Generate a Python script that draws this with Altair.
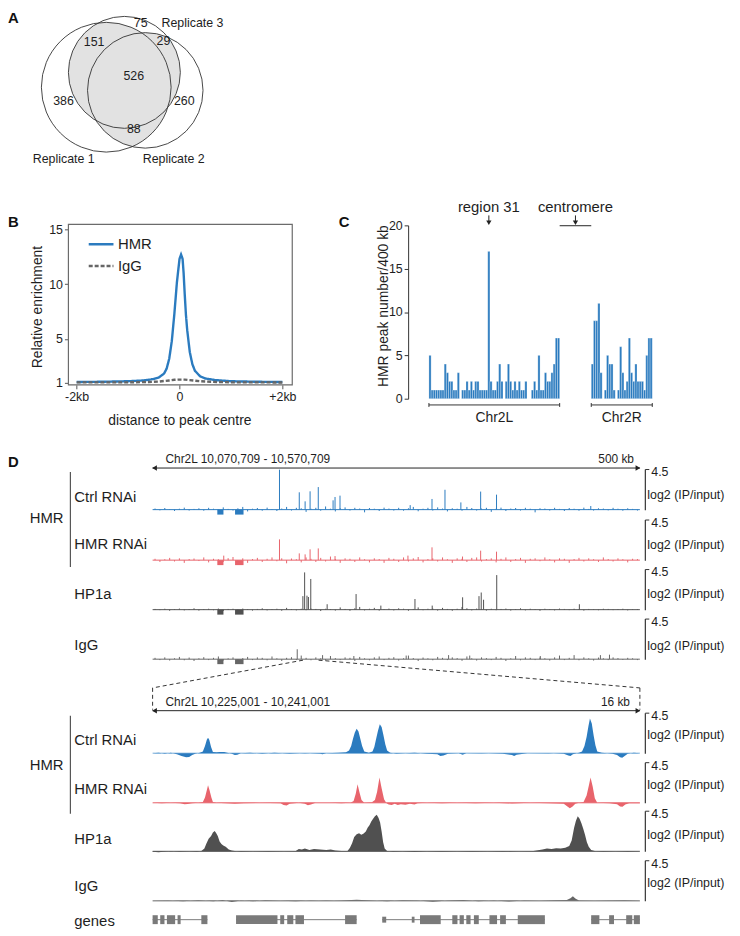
import altair as alt
import pandas as pd
import numpy as np

# ======================= DATA =======================
# A  Venn diagram of peak overlap
venn_names = ["Replicate 1", "Replicate 2", "Replicate 3"]
venn_counts = ["75", "151", "29", "526", "386", "260", "88"]

# B  average profile (bp from peak centre, relative enrichment)
b_hmr_bp = [-2000, -1500, -1000, -700, -500, -400, -300, -250, -200, -150, -100, -50, 0, 30, 60, 80,
            100, 125, 150, 200, 250, 300, 400, 500, 700, 1000, 1500, 2000]
b_hmr = [1.08, 1.1, 1.15, 1.22, 1.35, 1.5, 1.85, 2.3, 3.2, 4.8, 7.3, 10.2, 12.3, 12.7, 12.3, 11.0,
         9.2, 7.2, 5.8, 3.8, 2.7, 2.1, 1.6, 1.4, 1.25, 1.15, 1.1, 1.08]
b_igg_bp = [-2000, -1500, -1000, -600, -400, -200, -100, 0, 100, 200, 400, 600, 1000, 1500, 2000]
b_igg = [1.05, 1.05, 1.05, 1.08, 1.12, 1.22, 1.28, 1.3, 1.3, 1.25, 1.15, 1.1, 1.05, 1.05, 1.03]

# C  HMR peaks per 400 kb bin
chr2L_counts = [5, 1, 1, 1, 1, 1, 1, 4, 3, 2, 2, 1, 1, 3, 0, 1, 1, 2, 1, 2, 1, 2, 2, 1, 1, 1, 1, 17,
                2, 1, 1, 2, 4, 2, 0, 2, 4, 2, 1, 2, 1, 2, 1, 1, 2, 0, 0, 1, 2, 1, 5, 1, 1, 3, 2, 2, 3,
                4, 7, 7]
chr2R_counts = [4, 9, 9, 11, 3, 0, 1, 5, 4, 4, 1, 0, 1, 6, 3, 1, 2, 7, 3, 2, 4, 2, 2, 2, 1, 5, 7, 7]
chr2R_start_bin = 74.5
region31_bin = 27

# D  upper browser view (kb from 10,070,709; log2 IP/input)
up_span_kb = 500
ctrl_up_kb = [130.2, 150.5, 156.5, 161.6, 170.0, 185.2, 187.2, 192.3, 264.3, 286.7, 300.0, 316.3,
              336.6, 352.9, 449.6]
ctrl_up_v = [4.43, 1.92, 0.92, 2.03, 2.5, 1.03, 1.4, 1.55, 0.5, 1.18, 2.2, 0.8, 2.0, 1.66, 0.4]
red_up_kb = [73.0, 130.2, 150.5, 156.5, 161.6, 170.0, 187.2, 262.0, 286.7, 318.0, 336.6, 352.9]
red_up_v = [0.5, 2.3, 0.75, 0.64, 1.2, 1.3, 0.45, 0.5, 1.42, 0.4, 1.05, 0.94]
hp1_up_kb = [154.2, 156.0, 158.4, 159.9, 162.3, 179.1, 208.8, 234.2, 269.2, 286.9, 318.1, 334.9,
             337.2, 339.6, 353.1, 437.9]
hp1_up_v = [1.5, 4.13, 1.55, 1.4, 3.4, 0.6, 1.73, 0.45, 1.18, 0.45, 1.37, 1.5, 1.9, 1.1, 3.83, 0.6]
igg_up_kb = [148.4, 174.4, 206.5, 260.2, 303.7, 325.4, 397.8, 459.5, 468.8]
igg_up_v = [1.1, 0.45, 0.35, 0.4, 0.45, 0.4, 0.35, 0.45, 0.5]
gap_blocks_kb = [(66.4, 72.7), (84.6, 93.3)]
gap_depth = -0.55
noise_kb = [2.5 + 5 * i for i in range(100)]
ctrl_noise = [0.12, -0.08, 0.18, 0.05, -0.15, 0.1, 0.22, -0.1, 0.08, 0.15,
              -0.12, 0.2, 0.1, -0.18, 0.25, 0.08, -0.1, 0.15, 0.3, -0.2,
              0.1, 0.18, -0.12, 0.22, 0.05, -0.15, 0.12, 0.3, -0.1, 0.2,
              0.15, -0.25, 0.1, 0.2, -0.12, 0.35, 0.1, -0.2, 0.15, 0.25,
              -0.1, 0.2, 0.12, -0.3, 0.18, 0.1, -0.15, 0.22, 0.12, -0.1,
              0.2, -0.12, 0.15, 0.3, -0.18, 0.1, 0.2, -0.1, 0.25, 0.12,
              -0.2, 0.15, 0.1, -0.12, 0.3, 0.18, -0.1, 0.12, 0.2, -0.25,
              0.1, 0.22, -0.15, 0.12, 0.18, -0.1, 0.2, 0.1, -0.3, 0.15,
              0.12, -0.1, 0.2, 0.08, -0.15, 0.18, 0.1, -0.12, 0.22, 0.08,
              -0.1, 0.15, 0.12, -0.08, 0.2, 0.1, -0.12, 0.15, 0.08, -0.1]
red_noise = [0.15, -0.2, 0.1, 0.25, -0.15, 0.2, -0.3, 0.12, 0.18, -0.1,
             0.3, -0.25, 0.15, 0.1, -0.2, 0.22, 0.35, -0.15, 0.2, -0.3,
             0.12, 0.25, -0.2, 0.15, 0.3, -0.12, 0.2, -0.35, 0.18, 0.1,
             -0.25, 0.3, 0.15, -0.2, 0.25, -0.15, 0.4, 0.12, -0.3, 0.2,
             0.15, -0.2, 0.3, 0.1, -0.25, 0.2, 0.12, -0.3, 0.25, 0.15,
             -0.2, 0.3, -0.15, 0.2, 0.35, -0.25, 0.12, 0.2, -0.15, 0.3,
             0.1, -0.3, 0.2, 0.15, -0.2, 0.25, 0.3, -0.15, 0.12, 0.2,
             -0.25, 0.15, 0.3, -0.2, 0.12, 0.25, -0.3, 0.15, 0.2, -0.12,
             0.3, 0.1, -0.25, 0.2, 0.15, -0.3, 0.12, 0.25, -0.15, 0.2,
             0.1, -0.2, 0.3, 0.12, -0.15, 0.2, 0.1, -0.25, 0.15, 0.12]
hp1_noise = [0.08, -0.05, 0.1, -0.12, 0.06, 0.12, -0.08, 0.05, 0.15, -0.1,
             0.07, 0.1, -0.06, 0.12, -0.15, 0.08, 0.1, -0.05, 0.12, 0.06,
             -0.1, 0.08, 0.15, -0.08, 0.05, 0.1, -0.12, 0.2, 0.06, -0.08,
             0.1, -0.06, 0.12, 0.08, -0.15, 0.1, 0.06, -0.1, 0.25, 0.08,
             -0.12, 0.15, 0.3, -0.08, 0.1, 0.2, -0.1, 0.06, 0.12, -0.08,
             0.15, 0.1, -0.12, 0.08, 0.25, -0.06, 0.1, 0.12, -0.1, 0.2,
             0.08, -0.12, 0.1, 0.3, 0.15, -0.08, 0.12, 0.06, -0.1, 0.1,
             -0.06, 0.08, 0.12, -0.1, 0.06, 0.15, -0.08, 0.1, 0.05, -0.12,
             0.1, 0.06, -0.08, 0.12, 0.08, -0.05, 0.1, 0.06, -0.1, 0.08,
             0.05, -0.06, 0.1, 0.08, -0.05, 0.06, 0.1, -0.08, 0.05, 0.06]
igg_noise = [0.15, -0.1, 0.2, -0.15, 0.1, 0.25, -0.12, 0.18, -0.2, 0.1,
             0.22, -0.1, 0.15, 0.3, -0.15, 0.1, 0.2, -0.18, 0.12, 0.25,
             -0.1, 0.2, 0.15, -0.12, 0.3, 0.1, -0.2, 0.15, 0.22, -0.1,
             0.4, 0.15, -0.12, 0.2, 0.1, -0.15, 0.35, 0.12, -0.1, 0.2,
             0.15, -0.2, 0.25, 0.1, -0.12, 0.2, 0.3, -0.1, 0.15, 0.22,
             -0.15, 0.1, 0.4, 0.12, -0.2, 0.18, 0.1, -0.12, 0.25, 0.15,
             -0.1, 0.2, 0.12, -0.18, 0.3, 0.1, -0.15, 0.2, 0.12, -0.1,
             0.25, 0.15, -0.2, 0.1, 0.35, -0.12, 0.2, 0.15, -0.1, 0.18,
             0.1, -0.15, 0.2, 0.4, -0.1, 0.15, 0.45, -0.12, 0.2, 0.1,
             -0.15, 0.18, 0.1, -0.1, 0.2, 0.12, -0.08, 0.15, 0.1, -0.1]

# D  lower browser view (kb from 10,225,001)
lo_span_kb = 16
zoom_from_kb, zoom_to_kb = 154.292, 170.292
ctrl_lo_kb = [0.0, 0.2, 0.4, 0.6, 0.8, 0.95, 1.1, 1.2, 1.3, 1.4, 1.55, 1.65, 1.72, 1.78, 1.82, 1.86, 1.92, 1.98,
              2.1, 2.2, 2.35, 2.45, 2.6, 2.7, 2.78, 2.9, 3.2, 3.6, 4.0, 4.5, 5.0, 5.5, 5.58, 5.7, 6.1, 6.35,
              6.45, 6.52, 6.58, 6.64, 6.7, 6.76, 6.82, 6.88, 6.95, 7.1, 7.22, 7.28, 7.34, 7.4, 7.46, 7.52,
              7.58, 7.64, 7.7, 7.8, 8.0, 8.6, 9.0, 9.35, 9.45, 9.55, 9.7, 10.05, 10.18, 10.3, 10.8, 11.5,
              11.8, 11.87, 11.95, 12.3, 13.0, 13.5, 13.65, 13.72, 13.8, 14.0, 14.1, 14.18, 14.25, 14.31,
              14.36, 14.42, 14.48, 14.54, 14.6, 14.75, 15.1, 15.25, 15.35, 15.42, 15.5, 15.6, 15.8, 16.0]
ctrl_lo_v = [0.0, 0.05, -0.05, 0.05, -0.1, -0.3, -0.45, -0.4, -0.2, -0.05, 0.05, 0.2, 0.8, 1.5, 1.73, 1.5,
             0.7, 0.15, 0.1, 0.15, 0.15, 0.05, -0.05, -0.2, -0.15, 0.0, 0.05, -0.05, 0.05, -0.05, 0.03,
             -0.05, -0.12, 0.0, 0.05, 0.1, 0.3, 0.8, 1.6, 2.3, 2.73, 2.4, 1.6, 0.8, 0.2, 0.05, 0.2, 0.7,
             1.6, 2.5, 3.21, 2.9, 2.0, 1.0, 0.3, 0.05, -0.05, 0.05, -0.05, -0.1, -0.3, -0.25, -0.05, 0.0,
             -0.15, 0.0, 0.03, -0.05, -0.2, -0.3, -0.15, 0.0, 0.03, -0.05, -0.25, -0.3, -0.1, 0.05, 0.2,
             0.8, 1.8, 3.0, 3.84, 3.3, 2.0, 0.9, 0.2, 0.05, -0.05, -0.2, -0.45, -0.5, -0.3, -0.05, 0.05, 0.0]
red_lo_kb = [0.0, 0.3, 0.6, 0.9, 1.05, 1.15, 1.3, 1.5, 1.65, 1.72, 1.78, 1.82, 1.87, 1.93, 1.98, 2.1, 2.4,
             2.7, 3.0, 3.5, 4.2, 4.3, 4.4, 4.5, 4.8, 5.0, 5.1, 5.2, 5.35, 5.8, 6.2, 6.5, 6.6, 6.67, 6.73,
             6.79, 6.86, 6.95, 7.2, 7.3, 7.37, 7.45, 7.52, 7.6, 7.68, 7.75, 7.85, 7.95, 8.05, 8.15, 8.3,
             8.45, 8.6, 8.7, 9.0, 9.5, 10.0, 10.6, 11.2, 11.8, 12.4, 13.0, 13.5, 13.62, 13.7, 13.78, 13.88,
             14.0, 14.15, 14.25, 14.33, 14.38, 14.45, 14.52, 14.6, 15.0, 15.25, 15.35, 15.43, 15.52,
             15.65, 16.0]
red_lo_v = [0.0, -0.05, 0.0, -0.05, -0.15, -0.12, -0.05, 0.0, 0.1, 0.6, 1.4, 1.95, 1.4, 0.6, 0.1, 0.0,
            -0.05, -0.1, -0.05, 0.0, -0.05, -0.25, -0.3, -0.1, 0.0, -0.1, -0.28, -0.2, 0.0, 0.0, -0.05,
            0.0, 0.2, 1.0, 2.06, 1.2, 0.3, 0.0, 0.05, 0.3, 1.2, 2.8, 1.6, 0.4, -0.05, -0.2, -0.25, -0.1,
            -0.25, -0.15, -0.22, -0.1, -0.2, -0.05, 0.0, -0.05, 0.0, -0.05, 0.0, -0.08, 0.0, -0.05,
            -0.1, -0.4, -0.6, -0.45, -0.1, 0.0, 0.1, 0.8, 2.0, 2.8, 1.8, 0.5, 0.0, -0.05, -0.15, -0.4,
            -0.45, -0.2, -0.05, -0.05]
hp1_lo_kb = [0.0, 0.2, 0.35, 0.6, 0.9, 1.2, 1.45, 1.6, 1.7, 1.76, 1.84, 1.92, 1.98, 2.04, 2.09, 2.14, 2.2,
             2.26, 2.32, 2.4, 2.5, 2.6, 2.7, 2.9, 3.3, 3.8, 4.3, 4.7, 4.8, 4.9, 5.0, 5.15, 5.3, 5.5, 5.7,
             5.85, 6.0, 6.2, 6.4, 6.48, 6.55, 6.62, 6.7, 6.78, 6.85, 6.92, 7.0, 7.06, 7.12, 7.18, 7.24,
             7.3, 7.36, 7.42, 7.47, 7.52, 7.57, 7.62, 7.7, 7.9, 8.2, 8.6, 9.0, 9.5, 10.0, 10.5, 11.0,
             11.5, 12.0, 12.5, 12.8, 12.95, 13.1, 13.25, 13.4, 13.55, 13.68, 13.76, 13.84, 13.9, 13.96,
             14.02, 14.08, 14.14, 14.2, 14.26, 14.32, 14.4, 14.55, 14.8, 15.2, 15.6, 16.0]
hp1_lo_v = [-0.05, -0.1, -0.05, 0.05, -0.05, 0.0, -0.05, 0.05, 0.3, 0.8, 1.4, 1.7, 2.1, 2.25, 2.0, 1.7,
            1.1, 0.8, 0.65, 0.5, 0.2, 0.1, 0.05, -0.05, 0.0, -0.05, 0.0, 0.05, 0.25, 0.2, 0.3, 0.15,
            0.25, 0.2, 0.15, 0.2, 0.1, 0.05, 0.05, 0.4, 0.9, 1.6, 1.9, 2.0, 1.85, 1.95, 2.2, 2.6, 2.9,
            3.3, 3.6, 3.9, 4.05, 3.7, 3.2, 2.2, 1.0, 0.3, 0.05, -0.05, 0.0, -0.08, 0.0, -0.05, 0.0,
            -0.05, 0.0, -0.05, 0.0, 0.05, 0.2, 0.3, 0.25, 0.35, 0.3, 0.4, 0.6, 1.2, 2.6, 3.4, 3.9, 3.6,
            3.1, 2.5, 1.8, 1.0, 0.5, 0.15, 0.0, -0.05, 0.0, -0.05, 0.0]
igg_lo_kb = [0.0, 0.5, 1.0, 1.5, 2.0, 2.3, 2.6, 2.9, 3.3, 3.7, 4.2, 4.7, 5.2, 5.7, 6.2, 6.7, 7.2, 7.7, 8.2,
             8.7, 9.2, 9.7, 10.2, 10.7, 11.2, 11.7, 12.2, 12.7, 13.2, 13.6, 13.72, 13.8, 13.88, 14.0,
             14.5, 15.0, 15.5, 16.0]
igg_lo_v = [0.0, 0.05, -0.05, 0.08, -0.05, 0.1, -0.12, 0.05, -0.05, 0.08, 0.0, -0.05, 0.05, -0.03, 0.05,
            0.12, 0.05, -0.05, 0.08, 0.05, -0.1, 0.05, 0.1, -0.05, 0.03, -0.08, 0.05, 0.0, 0.08, 0.1,
            0.3, 0.5, 0.25, 0.05, 0.0, 0.05, 0.08, 0.0]

# genes (kb): exons and gene spans
exon_start = [0.0, 0.25, 0.47, 0.82, 1.60, 2.74, 4.19, 4.42, 4.69, 6.32, 8.78, 9.84, 10.08, 10.30,
              10.55, 11.06, 11.41, 11.99, 14.40, 14.99, 15.55, 15.80]
exon_end = [0.17, 0.39, 0.74, 0.92, 1.80, 4.10, 4.32, 4.62, 4.97, 6.70, 9.46, 10.01, 10.22, 10.44,
            10.71, 11.31, 11.60, 12.88, 14.67, 15.15, 15.75, 16.0]
utr_start = [7.54, 8.51]
utr_end = [7.67, 8.60]
gene_start = [0.0, 2.74, 7.54, 14.40]
gene_end = [1.80, 6.70, 12.88, 16.0]

# ======================= STYLE / LAYOUT =======================
M = 8                      # page margin: page px -> svg px
W, H = 731, 927
FONT = "Liberation Sans"
INK = "#1e1e1e"
BLUE = "#2b7bbf"
RED = "#e8646c"
DGRAY = "#505050"
GRAY = "#666666"


def scale(dom, rng):
    return alt.Scale(domain=list(dom), range=[v - M for v in rng], nice=False, zero=False)


def X(f, dom, rng, axis=None):
    return alt.X(f, type="quantitative", scale=scale(dom, rng), axis=axis)


def Y(f, dom, rng, axis=None):
    return alt.Y(f, type="quantitative", scale=scale(dom, rng), axis=axis)


PXD, PXR = (0, 740), (0, 740)
PYD, PYR = (0, 936), (0, 936)


def text_layer(rows, size=12.5, align="left", baseline="middle", weight="normal", color=INK):
    df = pd.DataFrame(rows, columns=["x", "y", "t"])
    return alt.Chart(df).mark_text(font=FONT, fontSize=size, align=align, baseline=baseline,
                                   fontWeight=weight, color=color).encode(
        x=X("x", PXD, PXR), y=Y("y", PYD, PYR), text="t:N")


layers = []

# ---------------- panel letters ----------------
layers.append(text_layer([(8, 19, "A"), (8, 225, "B"), (342, 225, "C"), (8, 467, "D")],
                         size=15, baseline="alphabetic", weight="bold", color="#111"))

# ---------------- A : Venn ----------------
venn_cx = [107.2, 146.6, 125.5]
venn_cy = [83.5, 86.7, 68.5]
venn_r = [65.5, 58.3, 56.5]
cx, cy, rr = np.array(venn_cx), np.array(venn_cy), np.array(venn_r)
gy = np.arange(0.0, 160.0, 0.25)
lens_rows = []
for gx in np.arange(60.0, 206.0, 0.5):
    inside = ((gx - cx[:, None]) ** 2 + (gy[None, :] - cy[:, None]) ** 2) <= rr[:, None] ** 2
    m = inside.sum(0) >= 2
    if m.any():
        lens_rows.append({"x": gx, "y0": gy[m].min(), "y1": gy[m].max()})
lens = pd.DataFrame(lens_rows)
layers.append(alt.Chart(lens).mark_area(color="#e2e2e2", orient="vertical").encode(
    x=X("x", PXD, PXR), y=Y("y0", PYD, PYR), y2="y1"))
circ = pd.DataFrame({"x": venn_cx, "y": venn_cy, "s": [(2 * r) ** 2 for r in venn_r]})
layers.append(alt.Chart(circ).mark_point(shape="circle", filled=False, stroke="#333",
                                         strokeWidth=0.9, opacity=1).encode(
    x=X("x", PXD, PXR), y=Y("y", PYD, PYR), size=alt.Size("s:Q", scale=None)))
count_pos = [(142, 19), (95, 38), (165, 37), (135, 72), (64, 97), (186, 97), (135, 126)]
layers.append(text_layer([(p[0], p[1], t) for p, t in zip(count_pos, venn_counts)],
                         size=12.5, align="center"))
name_pos = [(33, 156), (144, 156), (163, 19)]
layers.append(text_layer([(p[0], p[1], t) for p, t in zip(name_pos, venn_names)], size=12.5))

# ---------------- B : profile ----------------
BXD, BXR = (-2160, 2192), (69, 295)
BYD, BYR = (0.82, 15.45), (384, 222)
frame = pd.DataFrame([{"x0": BXD[0], "x1": BXD[1], "y0": BYD[0], "y1": BYD[1]}])
bx_axis = alt.Axis(orient="bottom", offset=(384 - M) - H, values=[-2000, 0, 2000],
                   labelExpr="datum.value == 0 ? '0' : (datum.value < 0 ? '-2kb' : '+2kb')",
                   tickSize=4, domain=False, grid=False, tickColor="#555", labelColor=INK,
                   labelFontSize=12.5, labelPadding=2, labelFlush=False,
                   title="distance to peak centre", titleX=181 - M, titleY=36,
                   titleBaseline="middle", titleAlign="center", titleFontSize=14,
                   titleFontWeight="normal", titleColor=INK)
by_axis = alt.Axis(orient="left", offset=-(69 - M), values=[1, 5, 10, 15], tickSize=4, domain=False,
                   grid=False, tickColor="#555", labelColor=INK, labelFontSize=12.5, labelPadding=2,
                   title="Relative enrichment", titleX=38 - 69, titleY=305 - M, titleAngle=270,
                   titleBaseline="middle", titleAlign="center", titleFontSize=14,
                   titleFontWeight="normal", titleColor=INK)
layers.append(alt.Chart(frame).mark_rect(fillOpacity=0, stroke="#6b6b6b", strokeWidth=1.2).encode(
    x=X("x0", BXD, BXR, bx_axis), x2="x1", y=Y("y0", BYD, BYR, by_axis), y2="y1"))
bdf = pd.concat([
    pd.DataFrame({"bp": b_hmr_bp, "v": b_hmr, "s": "HMR", "o": 0}),
    pd.DataFrame({"bp": b_igg_bp, "v": b_igg, "s": "IgG", "o": 1}),
])
leg = dict(title=None, orient="none", legendX=88 - M, legendY=228 - M, symbolType="stroke",
           symbolSize=625, symbolStrokeWidth=2.4, labelFont=FONT, labelFontSize=15,
           labelColor=INK, rowPadding=-4, labelOffset=3, padding=0)
layers.append(alt.Chart(bdf).mark_line(strokeWidth=2.4).encode(
    x=X("bp", BXD, BXR), y=Y("v", BYD, BYR),
    color=alt.Color("s:N", scale=alt.Scale(domain=["HMR", "IgG"], range=[BLUE, GRAY]),
                    legend=alt.Legend(**leg)),
    strokeDash=alt.StrokeDash("s:N", scale=alt.Scale(domain=["HMR", "IgG"], range=[[1, 0], [4, 2]]),
                              legend=alt.Legend(**leg))))

# ---------------- C : peak density ----------------
CXD, CXR = (0, 102.5), (433, 658.5)
CYD, CYR = (0, 20), (398, 223)
bars = []
for i, v in enumerate(chr2L_counts):
    if v > 0:
        bars.append({"a": i, "b": i + 1, "v": v})
for i, v in enumerate(chr2R_counts):
    if v > 0:
        bars.append({"a": chr2R_start_bin + i, "b": chr2R_start_bin + i + 1, "v": v})
bars = pd.DataFrame(bars)
bars["z"] = 0
cy_axis = alt.Axis(orient="left", offset=-(412 - M), values=[0, 5, 10, 15, 20], tickSize=4,
                   domain=True, domainColor="#333", tickColor="#333", grid=False, labelColor=INK,
                   labelFontSize=12.5, labelPadding=2, title="HMR peak number/400 kb",
                   titleX=387 - 412, titleY=304 - M, titleAngle=270, titleBaseline="middle",
                   titleAlign="center", titleFontSize=14, titleFontWeight="normal", titleColor=INK)
layers.append(alt.Chart(bars).mark_rect(color=BLUE, stroke="white", strokeWidth=0.3).encode(
    x=X("a", CXD, CXR), x2="b", y=Y("z", CYD, CYR, cy_axis), y2="v"))
L_end = len(chr2L_counts)
R_end = chr2R_start_bin + len(chr2R_counts)
chrom = pd.DataFrame({"a": [0, chr2R_start_bin], "b": [L_end, R_end], "y": [-0.72, -0.72]})
layers.append(alt.Chart(chrom).mark_rule(color="#333", strokeWidth=1).encode(
    x=X("a", CXD, CXR), x2="b", y=Y("y", CYD, CYR)))
ends = pd.DataFrame({"x": [0, L_end, chr2R_start_bin, R_end], "y0": -0.5, "y1": -0.95})
layers.append(alt.Chart(ends).mark_rule(color="#333", strokeWidth=1).encode(
    x=X("x", CXD, CXR), y=Y("y0", CYD, CYR), y2="y1"))
chr_lab = pd.DataFrame({"x": [L_end / 2, (chr2R_start_bin + R_end) / 2], "y": [-2.2, -2.2],
                        "t": ["Chr2L", "Chr2R"]})
layers.append(alt.Chart(chr_lab).mark_text(font=FONT, fontSize=14, color=INK).encode(
    x=X("x", CXD, CXR), y=Y("y", CYD, CYR), text="t:N"))
cen = (L_end + chr2R_start_bin) / 2
reg = region31_bin + 0.5
ann = pd.DataFrame({"x": [reg, cen], "y": [22.1, 22.1], "t": ["region 31", "centromere"]})
layers.append(alt.Chart(ann).mark_text(font=FONT, fontSize=15, color=INK).encode(
    x=X("x", CXD, CXR), y=Y("y", CYD, CYR), text="t:N"))
arr = pd.DataFrame({"x": [reg, cen], "y0": [21.15, 21.15], "y1": [20.3, 20.3]})
layers.append(alt.Chart(arr).mark_rule(color="#222", strokeWidth=1).encode(
    x=X("x", CXD, CXR), y=Y("y0", CYD, CYR), y2="y1"))
layers.append(alt.Chart(arr).mark_point(shape="triangle-down", filled=True, color="#222", size=28,
                                        opacity=1).encode(
    x=X("x", CXD, CXR), y=Y("y1", CYD, CYR)))
cbar = pd.DataFrame({"a": [L_end], "b": [chr2R_start_bin], "y": [19.96]})
layers.append(alt.Chart(cbar).mark_rule(color="#222", strokeWidth=1).encode(
    x=X("a", CXD, CXR), x2="b", y=Y("y", CYD, CYR)))

# ---------------- D : browser tracks ----------------
TX = (154, 646)
TH = 41
UP_T = [469, 520, 570, 620]
LO_T = [715, 765, 814, 864]
UP_LAB_Y = [497, 545, 595, 647]
LO_LAB_Y = [743, 792, 843, 890]
UP_LOG_Y = [495, 545, 595, 647]
LO_LOG_Y = [737, 788, 838, 887]
AXIS_X = 651


def right_axis(log_y):
    return alt.Axis(orient="right", offset=(AXIS_X - M) - W, values=[4.5], format=".1f", tickSize=4,
                    domain=True, domainColor="#333", domainWidth=1.2, tickColor="#333", grid=False,
                    labelColor=INK, labelFontSize=12.5, labelBaseline="middle", labelOffset=3,
                    labelPadding=2, title="log2 (IP/input)", titleAngle=0, titleAlign="left",
                    titleBaseline="middle", titleX=2, titleY=log_y - M, titleFontSize=12.5,
                    titleFontWeight="normal", titleColor=INK)


def track(T, xd, color, log_y, base_color=None, spikes=None, noise=None, area=None, blocks=True):
    YD, YR = (0, 4.5), (T + TH, T)
    out = []
    base = pd.DataFrame([{"a": xd[0], "b": xd[1], "y": 0}])
    out.append(alt.Chart(base).mark_rule(color=base_color or color,
                                         strokeWidth=1.4 if base_color else 1).encode(
        x=X("a", xd, TX), x2="b", y=Y("y", YD, YR, right_axis(log_y))))
    if blocks:
        bl = pd.DataFrame({"a": [b[0] for b in gap_blocks_kb], "b": [b[1] for b in gap_blocks_kb],
                           "y0": 0, "y1": gap_depth})
        out.append(alt.Chart(bl).mark_rect(color=color).encode(
            x=X("a", xd, TX), x2="b", y=Y("y0", YD, YR), y2="y1"))
    for pos, val in ([noise] if noise else []) + ([spikes] if spikes else []):
        df = pd.DataFrame({"x": pos, "v": val, "z": 0})
        out.append(alt.Chart(df).mark_rule(color=color, strokeWidth=1).encode(
            x=X("x", xd, TX), y=Y("z", YD, YR), y2="v"))
    if area:
        df = pd.DataFrame({"x": area[0], "v": area[1], "z": 0})
        out.append(alt.Chart(df).mark_area(color=color, orient="vertical", opacity=1).encode(
            x=X("x", xd, TX), y=Y("v", YD, YR), y2="z"))
    return out


UXD = (0, up_span_kb)
LXD = (0, lo_span_kb)
layers += track(UP_T[0], UXD, BLUE, UP_LOG_Y[0], spikes=(ctrl_up_kb, ctrl_up_v), noise=(noise_kb, ctrl_noise))
layers += track(UP_T[1], UXD, RED, UP_LOG_Y[1], spikes=(red_up_kb, red_up_v), noise=(noise_kb, red_noise))
layers += track(UP_T[2], UXD, DGRAY, UP_LOG_Y[2], spikes=(hp1_up_kb, hp1_up_v), noise=(noise_kb, hp1_noise))
layers += track(UP_T[3], UXD, GRAY, UP_LOG_Y[3], spikes=(igg_up_kb, igg_up_v), noise=(noise_kb, igg_noise))
layers += track(LO_T[0], LXD, BLUE, LO_LOG_Y[0], base_color="#a9cbe8", area=(ctrl_lo_kb, ctrl_lo_v), blocks=False)
layers += track(LO_T[1], LXD, RED, LO_LOG_Y[1], area=(red_lo_kb, red_lo_v), blocks=False)
layers += track(LO_T[2], LXD, DGRAY, LO_LOG_Y[2], area=(hp1_lo_kb, hp1_lo_v), blocks=False)
layers += track(LO_T[3], LXD, GRAY, LO_LOG_Y[3], area=(igg_lo_kb, igg_lo_v), blocks=False)

# scale bars
for xd, y in [(UXD, 468), (LXD, 713)]:
    sb = pd.DataFrame([{"a": xd[0], "b": xd[1]}])
    layers.append(alt.Chart(sb).mark_rule(color="#222", strokeWidth=1).encode(
        x=X("a", xd, TX), x2="b", y=alt.value(y - M)))
    heads = pd.DataFrame({"x": [xd[0] + (xd[1] - xd[0]) * 0.004, xd[1] - (xd[1] - xd[0]) * 0.004],
                          "sh": ["triangle-left", "triangle-right"]})
    layers.append(alt.Chart(heads).mark_point(filled=True, color="#222", size=30, opacity=1).encode(
        x=X("x", xd, TX), y=alt.value(y - M), shape=alt.Shape("sh:N", scale=None)))
layers.append(text_layer([(167, 459, "Chr2L 10,070,709 - 10,570,709"),
                          (167, 704, "Chr2L 10,225,001 - 10,241,001")], size=12))
layers.append(text_layer([(640, 459, "500 kb"), (636, 704, "16 kb")], size=12, align="right"))

# zoom connectors (upper kb scale; lower view spans the full width)
conn = pd.DataFrame({"a": [zoom_from_kb, zoom_to_kb, 0, up_span_kb],
                     "b": [0, up_span_kb, 0, up_span_kb],
                     "y0": [662, 662, 690, 690], "y1": [690, 690, 712, 712]})
layers.append(alt.Chart(conn).mark_rule(color="#333", strokeWidth=1, strokeDash=[4, 3]).encode(
    x=X("a", UXD, TX), x2="b", y=Y("y0", PYD, PYR), y2="y1"))

# genes
ex = pd.DataFrame({"a": exon_start, "b": exon_end})
layers.append(alt.Chart(ex).mark_rect(color="#7a7a7a").encode(
    x=X("a", LXD, TX), x2="b", y=alt.value(919.5 - M), y2=alt.value(928.5 - M)))
ut = pd.DataFrame({"a": utr_start, "b": utr_end})
layers.append(alt.Chart(ut).mark_rect(color="#7a7a7a").encode(
    x=X("a", LXD, TX), x2="b", y=alt.value(921 - M), y2=alt.value(927 - M)))
gn = pd.DataFrame({"a": gene_start, "b": gene_end})
layers.append(alt.Chart(gn).mark_rule(color="#7a7a7a", strokeWidth=1).encode(
    x=X("a", LXD, TX), x2="b", y=alt.value(924 - M)))

# track labels
track_names = ["Ctrl RNAi", "HMR RNAi", "HP1a", "IgG"]
layers.append(text_layer([(75, y, t) for y, t in zip(UP_LAB_Y, track_names)] +
                         [(75, y, t) for y, t in zip(LO_LAB_Y, track_names)] +
                         [(75, 925, "genes")], size=15))
layers.append(text_layer([(47, 519, "HMR"), (47, 768, "HMR")], size=15, align="center"))
grp = pd.DataFrame({"x": [71, 71], "y0": [472, 718], "y1": [568, 817]})
layers.append(alt.Chart(grp).mark_rule(color="#555", strokeWidth=1.2).encode(
    x=X("x", PXD, PXR), y=Y("y0", PYD, PYR), y2="y1"))

chart = alt.layer(*layers).resolve_scale(x="independent", y="independent").properties(
    width=W, height=H, padding=0, autosize=alt.AutoSizeParams(type="none"))
chart = chart.configure_view(stroke=None).configure_axis(labelFont=FONT, titleFont=FONT)
chart.save("out.html", embed_options={"renderer": "svg", "actions": False})
